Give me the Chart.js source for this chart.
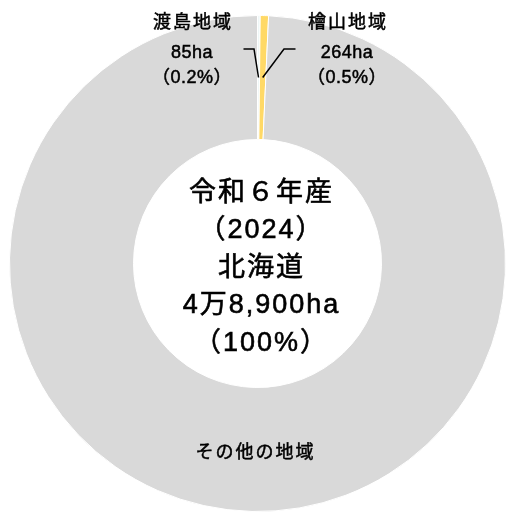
<!DOCTYPE html>
<html><head><meta charset="utf-8">
<script src="https://cdn.jsdelivr.net/npm/chart.js@4"></script>
<style>html,body{margin:0;padding:0;background:#fff;}#wrap{width:506px;height:513px;position:relative;}</style>
</head><body><div id="wrap"><canvas id="c"></canvas></div>
<script>
const categories = ['渡島地域', '檜山地域', 'その他の地域'];
const areaLabels = ['85ha', '264ha', ''];
const shareLabels = ['（0.2%）', '（0.5%）', ''];
const areas = [85, 264, 48551];
const centerLines = ['令和６年産', '（2024）', '北海道', '4万8,900ha', '（100%）'];
const colors = ['#eef7f7', '#ffd966', '#d9d9d9'];

const FONT = '"Liberation Sans", "Noto Sans CJK JP", sans-serif';

function txt(ctx, t, x, y) {
  ctx.fillText(t, x, y);
  ctx.strokeText(t, x, y);
}

const labelPlugin = {
  id: 'labels',
  afterDraw(chart) {
    const ctx = chart.ctx;
    const meta = chart.getDatasetMeta(0);
    const arc0 = meta.data[0];
    const cx = arc0.x, cy = arc0.y;
    ctx.save();
    ctx.fillStyle = '#000';
    ctx.textAlign = 'center';
    ctx.textBaseline = 'middle';
    // center text
    ctx.font = '400 27px ' + FONT;
    ctx.letterSpacing = '2px';
    ctx.strokeStyle = '#000';
    ctx.lineWidth = 0.6;
    const step = 37.5;
    centerLines.forEach((t, i) => {
      txt(ctx, t, cx + 4, cy - 70 + i * step);
    });
    // small slice labels with leader lines
    const offs = [{lx: -65.5, tx: -14, ex: -3.5}, {lx: 89.5, tx: 38, ex: 26.5}];
    [0, 1].forEach(i => {
      const a = meta.data[i];
      const mid = (a.startAngle + a.endAngle) / 2;
      const r = (a.innerRadius + a.outerRadius) / 2;
      const px = cx + Math.cos(mid) * r;
      const py = cy + Math.sin(mid) * r;
      const o = offs[i];
      const ey = cy - 214.5;
      ctx.strokeStyle = '#000';
      ctx.lineWidth = 1.5;
      ctx.beginPath();
      ctx.moveTo(px, py);
      ctx.lineTo(cx + o.ex, ey);
      ctx.lineTo(cx + o.tx, ey);
      ctx.stroke();
      ctx.lineWidth = 0.5;
      ctx.letterSpacing = '2px';
      ctx.font = '400 18px ' + FONT;
      txt(ctx, categories[i], cx + o.lx + 1, cy - 240.5);
      ctx.letterSpacing = '0.5px';
      txt(ctx, areaLabels[i], cx + o.lx, cy - 210.5);
      txt(ctx, shareLabels[i], cx + o.lx, cy - 185);
    });
    // large slice label
    ctx.letterSpacing = '2px';
    ctx.lineWidth = 0.5;
    ctx.font = '400 18px ' + FONT;
    txt(ctx, categories[2], cx - 2, cy + 190);
    ctx.restore();
  }
};

new Chart(document.getElementById('c'), {
  type: 'doughnut',
  data: {
    labels: categories,
    datasets: [{
      data: areas,
      backgroundColor: colors,
      borderColor: '#ffffff',
      borderWidth: 1
    }]
  },
  options: {
    responsive: true,
    maintainAspectRatio: false,
    animation: false,
    cutout: '50%',
    layout: {padding: {left: 9, right: 0, top: 15, bottom: 1}},
    plugins: {legend: {display: false}, tooltip: {enabled: false}}
  },
  plugins: [labelPlugin]
});
</script>
</body></html>
